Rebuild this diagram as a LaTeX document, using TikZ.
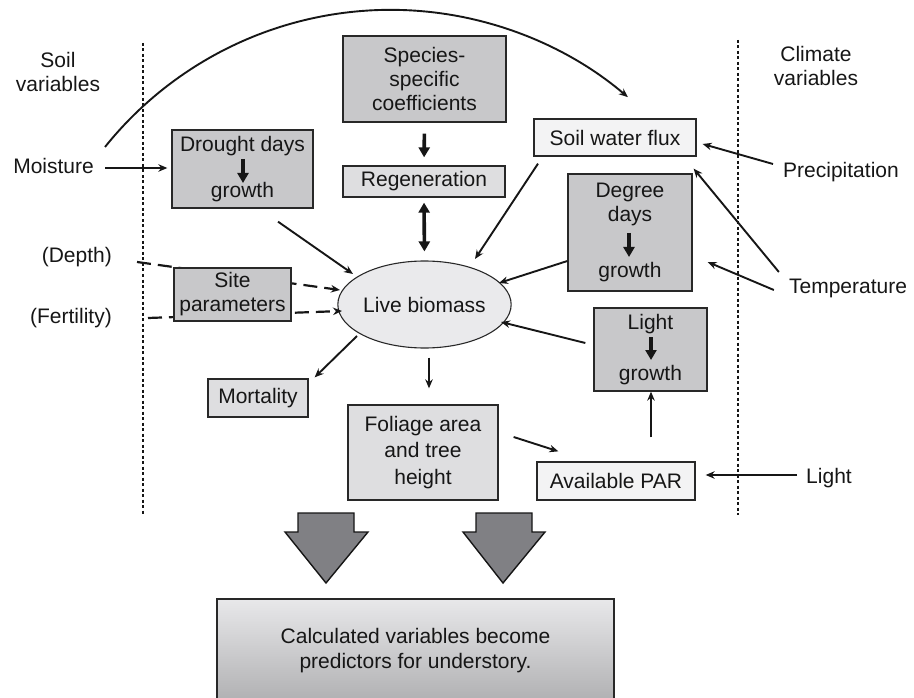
\documentclass[tikz,border=0pt]{standalone}
\usepackage{fontspec}
\setmainfont{Liberation Sans}
\usetikzlibrary{arrows.meta,shapes.geometric,calc}
\definecolor{bdark}{RGB}{200,200,202}
\definecolor{blight}{RGB}{222,222,224}
\definecolor{bvlight}{RGB}{243,243,244}
\definecolor{bell}{RGB}{234,234,236}
\definecolor{bordercol}{RGB}{40,40,40}
\definecolor{txtcol}{RGB}{22,22,22}
\definecolor{arrcol}{RGB}{22,22,22}
\definecolor{blockfill}{RGB}{128,128,132}
\definecolor{gtop}{RGB}{232,232,234}
\definecolor{gbot}{RGB}{176,176,178}
\newcommand\myfs{\fontsize{21pt}{24pt}\selectfont}
\begin{document}
\begin{tikzpicture}[x=1pt,y=-1pt,
  box/.style={draw=bordercol,line width=1.3pt,align=center,font=\myfs,inner sep=0pt,text=txtcol},
  lbl/.style={font=\myfs,inner sep=0pt,text=txtcol,align=center},
  arr/.style={line width=1.9pt,draw=arrcol,-{Stealth[length=9pt,width=7.5pt]}},
  dasharr/.style={arr,line width=2.2pt,dash pattern=on 14pt off 7pt},
  fatarr/.style={line width=3.6pt,draw=arrcol,-{Triangle[length=10pt,width=11pt]}},
  fatdbl/.style={line width=3.6pt,draw=arrcol,{Triangle[length=10pt,width=11pt]}-{Triangle[length=10pt,width=11pt]}},
  dotline/.style={line width=1.4pt,draw=arrcol,dash pattern=on 3pt off 2.5pt},
  blockarr/.style={fill=blockfill,draw=arrcol,line width=1.4pt,line join=miter}
]
\useasboundingbox (0,0) rectangle (914,698);

% dotted separators
\coordinate (dl1) at (143,43); \coordinate (dl2) at (143,515);
\coordinate (dr1) at (738,40); \coordinate (dr2) at (738,515);
\draw[dotline] (dl1) -- (dl2);
\draw[dotline] (dr1) -- (dr2);

% side labels
\node[lbl] (soil) at (58,71.5) {Soil\\variables};
\node[lbl] (clim) at (816,65.5) {Climate\\variables};
\node[lbl,anchor=base east] (moist) at (94,174) {Moisture};
\node[lbl,anchor=base east] (depth) at (112,262) {(Depth)};
\node[lbl,anchor=base east] (fert) at (112,323) {(Fertility)};
\node[lbl,anchor=base] (precip) at (841,178) {Precipitation};
\node[lbl,anchor=base] (temp) at (848,293) {Temperature};
\node[lbl,anchor=base] (lightv) at (829,483) {Light};

% central ellipse
\node[box,ellipse,line width=1.1pt,fill=bell,minimum width=151pt,minimum height=87pt] (bio) at (424.5,304.5) {Live biomass};

% dashed inputs (behind site box)
\draw[dasharr] ($(depth.base east)+(25,0)$) -- ($(bio.center)+(-84.5,-14.5)$);
\draw[dasharr] ($(fert.base east)+(36,-5)$) -- ($(bio.center)+(-82.5,6.5)$);

% boxes
\node[box,fill=bdark,minimum width=141pt,minimum height=78pt] (drought) at (242.5,169) {Drought days\\[22pt]growth};
\node[box,fill=bdark,minimum width=163pt,minimum height=86pt] (spec) at (424.5,79) {Species-\\specific\\coefficients};
\node[box,fill=blight,minimum width=162pt,minimum height=31pt] (regen) at (424,181.5) {Regeneration};
\node[box,fill=bvlight,minimum width=162pt,minimum height=37pt] (swf) at (615,137.5) {Soil water flux};
\node[box,fill=bdark,minimum width=124pt,minimum height=117pt] (degree) at (630,232.5) {Degree\\days\\[32pt]growth};
\node[box,fill=bdark,minimum width=117pt,minimum height=53pt] (site) at (232.5,294.5) {Site\\parameters};
\node[box,fill=blight,minimum width=100pt,minimum height=38pt] (mort) at (258,398) {Mortality};
\node[box,fill=blight,minimum width=150pt,minimum height=95pt] (fol) at (423,452.5) {Foliage area\\[2.5pt]and tree\\[2.5pt]height};
\node[box,fill=bvlight,minimum width=158pt,minimum height=38pt] (par) at (616,481) {Available PAR};
\node[box,fill=bdark,minimum width=113pt,minimum height=83pt] (lightg) at (650.5,349.5) {Light\\[27pt]growth};
\node[box,top color=gtop,bottom color=gbot,minimum width=397pt,minimum height=103pt] (final) at (415.5,650.5) {Calculated variables become\\[1pt]predictors for understory.};

% inner thick arrows
\draw[fatarr] ($(drought.center)+(0.5,-10)$) -- ($(drought.center)+(0.5,14)$);
\draw[fatarr] ($(degree.center)+(-1,0.5)$) -- ($(degree.center)+(-1,24.5)$);
\draw[fatarr] ($(lightg.center)+(0.5,-12.5)$) -- ($(lightg.center)+(0.5,10.5)$);

% thick connectors
\draw[fatarr,shorten <=11pt,shorten >=8pt] (spec.south) -- (regen.north);
\draw[fatdbl,shorten <=5pt,shorten >=9pt] (regen.south) -- (bio.north);

% big arc from moisture to soil water flux
\coordinate (arcA) at (105,147);
\draw[arr] (arcA) arc[start angle=-141.3,end angle=-49.6,radius=366];

% connectors
\draw[arr] ($(moist.base east)+(11,-6)$) -- ($(drought.west)+(-4,-1)$);
\draw[arr] ($(drought.south)+(35.5,13)$) -- ($(bio.center)+(-71.5,-30.5)$);
\draw[arr] ($(swf.south)+(-77,7)$) -- ($(bio.center)+(50.5,-45.5)$);
\draw[arr] ($(degree.west)+(0,28.5)$) -- ($(bio.center)+(74.5,-21.5)$);
\draw[arr] ($(lightg.west)+(-8,-6.5)$) -- ($(bio.center)+(76.5,17.5)$);
\draw[arr] ($(bio.center)+(-67.5,31.5)$) -- ($(mort.north east)+(6,-1)$);
\draw[arr] ($(bio.south)+(4.5,9)$) -- ($(fol.north)+(6,-16)$);
\draw[arr] ($(fol.east)+(15,-15.5)$) -- ($(par.north west)+(22,-10)$);
\draw[arr] ($(par.north)+(35,-24)$) -- ($(lightg.south)+(0.5,0)$);
\draw[arr] ($(lightv.base west)+(-9,-8)$) -- ($(par.east)+(10,-6)$);
\draw[arr] ($(precip.base west)+(-10,-14)$) -- ($(swf.east)+(6,6.5)$);
\draw[arr] ($(temp.base west)+(-10,-21)$) -- ($(swf.south east)+(-3,12)$);
\draw[arr] ($(temp.base west)+(-15,-3)$) -- ($(degree.east)+(15,29.5)$);

% block arrows to the final box
\draw[blockarr] (298,513) -- (354,513) -- (354,532) -- (368,532) -- (326,583) -- (285,532) -- (298,532) -- cycle;
\draw[blockarr] (476,513) -- (532,513) -- (532,532) -- (545,532) -- (503,583) -- (463,532) -- (476,532) -- cycle;
\end{tikzpicture}
\end{document}
